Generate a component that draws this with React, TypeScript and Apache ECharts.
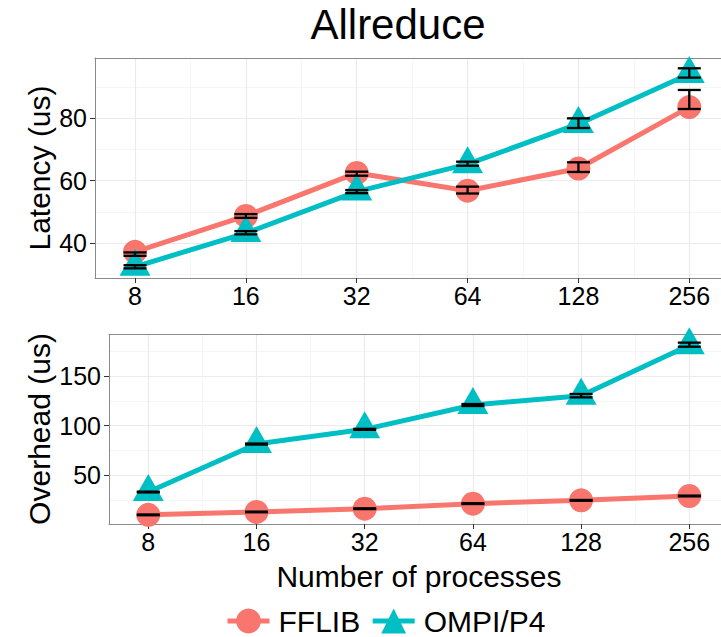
import React, { useEffect, useRef } from "react";
import * as echarts from "echarts";

const categories = ["8", "16", "32", "64", "128", "256"];

const latencyFFLIB = [37.2, 48.7, 62.5, 56.8, 63.9, 83.6];
const latencyFFLIBLow = [35.9, 48.1, 61.6, 55.9, 62.8, 83.0];
const latencyFFLIBHigh = [37.0, 49.3, 62.9, 58.1, 65.9, 89.1];
const latencyOMPI = [32.4, 43.2, 56.5, 65.3, 78.2, 94.2];
const latencyOMPILow = [31.9, 42.8, 56.0, 64.8, 76.9, 93.05];
const latencyOMPIHigh = [32.9, 43.85, 57.0, 66.1, 80.0, 96.05];

const overheadFFLIB = [10.2, 13.1, 16.4, 21.5, 24.8, 29.2];
const overheadFFLIBLow = [9.8, 12.8, 16.0, 21.1, 24.4, 28.8];
const overheadFFLIBHigh = [10.6, 13.5, 16.8, 21.9, 25.2, 29.6];
const overheadOMPI = [33.2, 81.5, 96.3, 120.8, 130.2, 181.0];
const overheadOMPILow = [32.8, 81.0, 95.8, 119.8, 128.5, 179.5];
const overheadOMPIHigh = [33.6, 82.0, 96.8, 121.8, 131.9, 183.6];

const latencyTicks = [40, 60, 80];
const latencyMinorTicks = [30, 50, 70, 90];
const overheadTicks = [50, 100, 150];
const overheadMinorTicks = [25, 75, 125, 175];

const seriesNames = ["FFLIB", "OMPI/P4"];
const titleText = "Allreduce";
const latencyTitle = "Latency (us)";
const overheadTitle = "Overhead (us)";
const xTitle = "Number of processes";

const RED = "#F8766D";
const TEAL = "#00BFC4";
const BORDER = "#8a8a8a";
const FONT = "'Liberation Sans', Arial, Helvetica, sans-serif";

export default function App() {
  const ref = useRef<HTMLDivElement>(null);

  useEffect(() => {
    document.body.style.margin = "0";
    if (!ref.current) return;
    const chart = echarts.init(ref.current, undefined, { renderer: "svg" });

    const catIdx = categories.map((_, i) => i);
    const minorX = categories.slice(1).map((_, i) => i + 0.5);

    const majorX = (gridIndex: number, min: number, max: number) => ({
      type: "value",
      gridIndex,
      position: "bottom",
      min,
      max,
      axisLine: { show: true, onZero: false, lineStyle: { color: BORDER, width: 1 } },
      axisTick: {
        show: true,
        customValues: catIdx,
        length: 5,
        lineStyle: { color: "#333", width: 1 },
      },
      axisLabel: {
        show: true,
        customValues: catIdx,
        formatter: (v: number) => categories[Math.round(v)],
        fontSize: 25,
        color: "#000",
        fontFamily: FONT,
        margin: 5,
      },
      splitLine: { show: true, lineStyle: { color: "#EBEBEB", width: 1.2 } },
    });
    const minorXAxis = (gridIndex: number, min: number, max: number) => ({
      type: "value",
      gridIndex,
      position: "top",
      min,
      max,
      axisLine: { show: true, onZero: false, lineStyle: { color: BORDER, width: 1 } },
      axisTick: { show: false, customValues: minorX },
      axisLabel: { show: false, customValues: minorX },
      splitLine: { show: true, lineStyle: { color: "#F4F4F4", width: 0.8 } },
    });
    const majorY = (gridIndex: number, min: number, max: number, ticks: number[]) => ({
      type: "value",
      gridIndex,
      position: "left",
      min,
      max,
      axisLine: { show: true, onZero: false, lineStyle: { color: BORDER, width: 1 } },
      axisTick: {
        show: true,
        customValues: ticks,
        length: 5,
        lineStyle: { color: "#333", width: 1 },
      },
      axisLabel: {
        show: true,
        customValues: ticks,
        fontSize: 25,
        color: "#000",
        fontFamily: FONT,
        margin: 8,
      },
      splitLine: { show: true, lineStyle: { color: "#EBEBEB", width: 1.2 } },
    });
    const minorYAxis = (gridIndex: number, min: number, max: number, ticks: number[]) => ({
      type: "value",
      gridIndex,
      position: "right",
      min,
      max,
      axisLine: { show: false, onZero: false },
      axisTick: { show: false, customValues: ticks },
      axisLabel: { show: false, customValues: ticks },
      splitLine: { show: true, lineStyle: { color: "#F4F4F4", width: 0.8 } },
    });

    const lineSeries = (
      name: string,
      axisIndex: number,
      values: number[],
      color: string,
      triangle: boolean
    ) => ({
      type: "line",
      name,
      xAxisIndex: axisIndex,
      yAxisIndex: axisIndex,
      data: values.map((v, i) => [i, v]),
      symbol: triangle ? "triangle" : "circle",
      symbolSize: triangle ? [31, 27] : 24,
      symbolOffset: triangle ? [0, -4.5] : [0, 0],
      showSymbol: true,
      clip: false,
      lineStyle: { color, width: 5 },
      itemStyle: { color, opacity: 1 },
      z: 3,
      silent: true,
    });

    const errorSeries = (
      name: string,
      axisIndex: number,
      low: number[],
      high: number[]
    ) => ({
      type: "custom",
      name,
      xAxisIndex: axisIndex,
      yAxisIndex: axisIndex,
      data: low.map((l, i) => [i, l, high[i]]),
      encode: { x: 0, y: [1, 2] },
      z: 5,
      silent: true,
      renderItem: (params: any, api: any) => {
        const x = api.value(0);
        const pLo = api.coord([x, api.value(1)]);
        const pHi = api.coord([x, api.value(2)]);
        const hw = 11.5;
        const style = { stroke: "#000", lineWidth: 2.3 };
        return {
          type: "group",
          children: [
            { type: "line", shape: { x1: pLo[0], y1: pHi[1], x2: pLo[0], y2: pLo[1] }, style },
            { type: "line", shape: { x1: pLo[0] - hw, y1: pHi[1], x2: pLo[0] + hw, y2: pHi[1] }, style },
            { type: "line", shape: { x1: pLo[0] - hw, y1: pLo[1], x2: pLo[0] + hw, y2: pLo[1] }, style },
          ],
        };
      },
    });

    const option: any = {
      animation: false,
      backgroundColor: "#fff",
      grid: [
        {
          left: 95,
          top: 58,
          width: 634.3,
          height: 220,
          show: false,
          containLabel: false,
          outerBoundsMode: "none",
        },
        {
          left: 109,
          top: 334.3,
          width: 619.6,
          height: 189.7,
          show: false,
          containLabel: false,
          outerBoundsMode: "none",
        },
      ],
      xAxis: [
        majorX(0, -0.361, 5.361),
        majorX(1, -0.363, 5.363),
        minorXAxis(0, -0.361, 5.361),
        minorXAxis(1, -0.363, 5.363),
      ],
      yAxis: [
        majorY(0, 28.8, 99.35, latencyTicks),
        majorY(1, 1, 192, overheadTicks),
        minorYAxis(0, 28.8, 99.35, latencyMinorTicks),
        minorYAxis(1, 1, 192, overheadMinorTicks),
      ],
      legend: {
        data: seriesNames,
        left: 220,
        top: 601,
        itemWidth: 42,
        itemHeight: 31,
        itemGap: 10,
        selectedMode: false,
        lineStyle: { width: 5 },
        textStyle: { fontSize: 30, color: "#000", fontFamily: FONT, padding: [0, 0, 0, 4] },
      },
      series: [
        lineSeries(seriesNames[0], 0, latencyFFLIB, RED, false),
        lineSeries(seriesNames[1], 0, latencyOMPI, TEAL, true),
        lineSeries(seriesNames[0], 1, overheadFFLIB, RED, false),
        lineSeries(seriesNames[1], 1, overheadOMPI, TEAL, true),
        errorSeries("FFLIB latency error", 0, latencyFFLIBLow, latencyFFLIBHigh),
        errorSeries("OMPI latency error", 0, latencyOMPILow, latencyOMPIHigh),
        errorSeries("FFLIB overhead error", 1, overheadFFLIBLow, overheadFFLIBHigh),
        errorSeries("OMPI overhead error", 1, overheadOMPILow, overheadOMPIHigh),
      ],
      graphic: [
        {
          type: "text",
          x: 398,
          y: 24,
          style: {
            text: titleText,
            font: `42px ${FONT}`,
            fill: "#000",
            textAlign: "center",
            textVerticalAlign: "middle",
          },
        },
        {
          type: "text",
          x: 39,
          y: 168,
          rotation: Math.PI / 2,
          style: {
            text: latencyTitle,
            font: `30px ${FONT}`,
            fill: "#000",
            textAlign: "center",
            textVerticalAlign: "middle",
          },
        },
        {
          type: "text",
          x: 39,
          y: 429,
          rotation: Math.PI / 2,
          style: {
            text: overheadTitle,
            font: `30px ${FONT}`,
            fill: "#000",
            textAlign: "center",
            textVerticalAlign: "middle",
          },
        },
        {
          type: "text",
          x: 419,
          y: 576,
          style: {
            text: xTitle,
            font: `30px ${FONT}`,
            fill: "#000",
            textAlign: "center",
            textVerticalAlign: "middle",
          },
        },
      ],
    };

    chart.setOption(option);
    return () => chart.dispose();
  }, []);

  return <div ref={ref} style={{ width: 721, height: 637 }} />;
}
